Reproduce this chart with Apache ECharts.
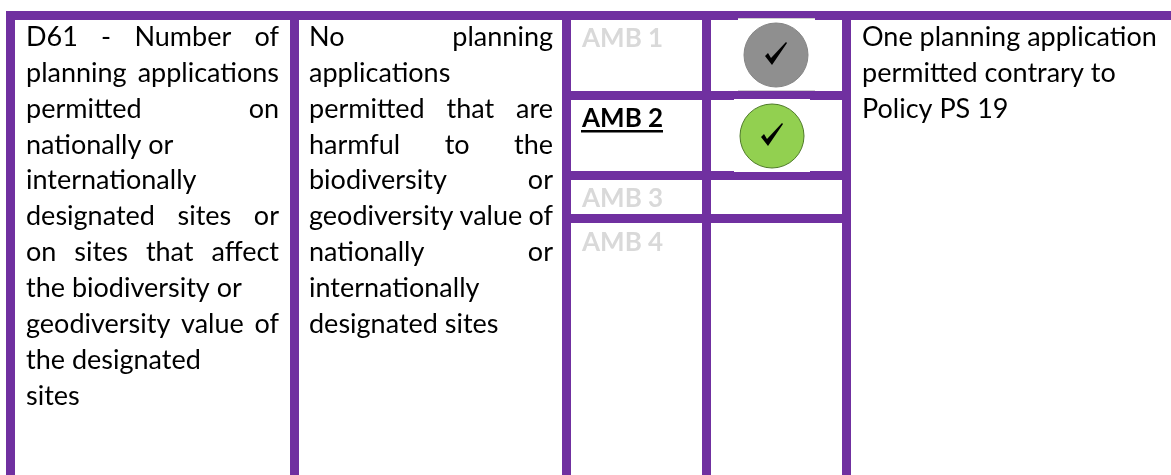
<!DOCTYPE html>
<html><head><meta charset="utf-8">
<style>html,body{margin:0;padding:0;background:#fff}#c{width:1171px;height:475px}</style>
<script src="https://cdn.jsdelivr.net/npm/echarts@6/dist/echarts.min.js"></script>
</head><body><div id="c"></div>
<script>
// ---- content ----
const indicatorLines = [
  ["D61 - Number of", 1], ["planning applications", 1], ["permitted on", 1], ["nationally or", 0],
  ["internationally", 0], ["designated sites or", 1], ["on sites that affect", 1],
  ["the biodiversity or", 0], ["geodiversity value of", 1], ["the designated", 0], ["sites", 0]
];
const targetLines = [
  ["No planning", 1], ["applications", 0], ["permitted that are", 1], ["harmful to the", 1],
  ["biodiversity or", 1], ["geodiversity value of", 1], ["nationally or", 1],
  ["internationally", 0], ["designated sites", 0]
];
const commentLines = ["One planning application", "permitted contrary to", "Policy PS 19"];
const ambLabels = ["AMB 1", "AMB 2", "AMB 3", "AMB 4"];
const ambActive = [false, true, false, false];
const ambStatus = ["#8f8f8f", "#92d050", null, null];

// ---- layout ----
const PURPLE = "#7030a0", FONT = "Lato", SIZE = 27, BOLD = 26, STEP = 35.85, BASE = 46.8;
const ambBase = [48.5, 128, 208, 252];
const vBars = [6, 290, 562, 702, 842], BAR = 9;
const hBars = [91, 171, 214];
const cvs = document.createElement("canvas").getContext("2d");
const measure = t => { cvs.font = `normal ${SIZE}px ${FONT}`; return cvs.measureText(t).width; };

const els = [];
const rect = (x, y, w, h, fill, z) => els.push({type:"rect", shape:{x,y,width:w,height:h}, style:{fill}, z:z||1, silent:true});
const word = (t, x, base, fill, weight) => els.push({type:"text", x, y:base-9.5, z:5, style:{text:t, fill, font:`${weight||"normal"} ${weight?BOLD:SIZE}px ${FONT}`, textAlign:"left", verticalAlign:"middle"}});

// purple frame
rect(6, 11, 1165, 9, PURPLE);
vBars.forEach(x => rect(x, 11, BAR, 464, PURPLE));
hBars.forEach(y => rect(562, y, 289, BAR, PURPLE));

function block(lines, left, right) {
  lines.forEach(([t, just], i) => {
    const base = BASE + i * STEP;
    const ws = t.split(" ");
    if (!just || ws.length < 2) { word(t, left, base, "#000"); return; }
    const total = ws.reduce((a, w) => a + measure(w), 0);
    const gap = (right - left - total) / (ws.length - 1);
    let x = left;
    ws.forEach(w => { word(w, x, base, "#000"); x += measure(w) + gap; });
  });
}
block(indicatorLines, 26, 279);
block(targetLines, 309, 553);
commentLines.forEach((t, i) => word(t, 862, BASE + i * STEP, "#000"));

ambLabels.forEach((t, i) => {
  word(t, 582, ambBase[i], ambActive[i] ? "#000" : "#d9d9d9", "bold");
  if (ambActive[i]) rect(581, 130, 82, 2.5, "#000", 5);
});

// status icons
const iconBox = [[738, 18, 77, 73], [734, 99, 76, 73]];
const iconC = [[776, 55], [772, 136]];
ambStatus.forEach((col, i) => {
  if (!col) return;
  const [bx, by, bw, bh] = iconBox[i], [cx, cy] = iconC[i];
  rect(bx, by, bw, bh, "#fff", 3);
  if (i === 0) { rect(bx, by, bw, 1, "#cfcfcf", 3); rect(bx, by + bh - 1, bw, 1, "#cfcfcf", 3); }
  els.push({type:"circle", shape:{cx, cy, r:32}, z:4, style:{fill:col, stroke:i===0?"#858585":"#4f7a2a", lineWidth:1}});
  els.push({type:"polygon", z:5, shape:{points:[[cx-11,cy+1],[cx-8,cy-2],[cx-5,cy+3],[cx+10,cy-13],[cx+11,cy-12],[cx-4,cy+10]]}, style:{fill:"#000"}});
});

const chart = echarts.init(document.getElementById("c"));
chart.setOption({animation:false, backgroundColor:"#fff", graphic:{elements:els}});
</script></body></html>
